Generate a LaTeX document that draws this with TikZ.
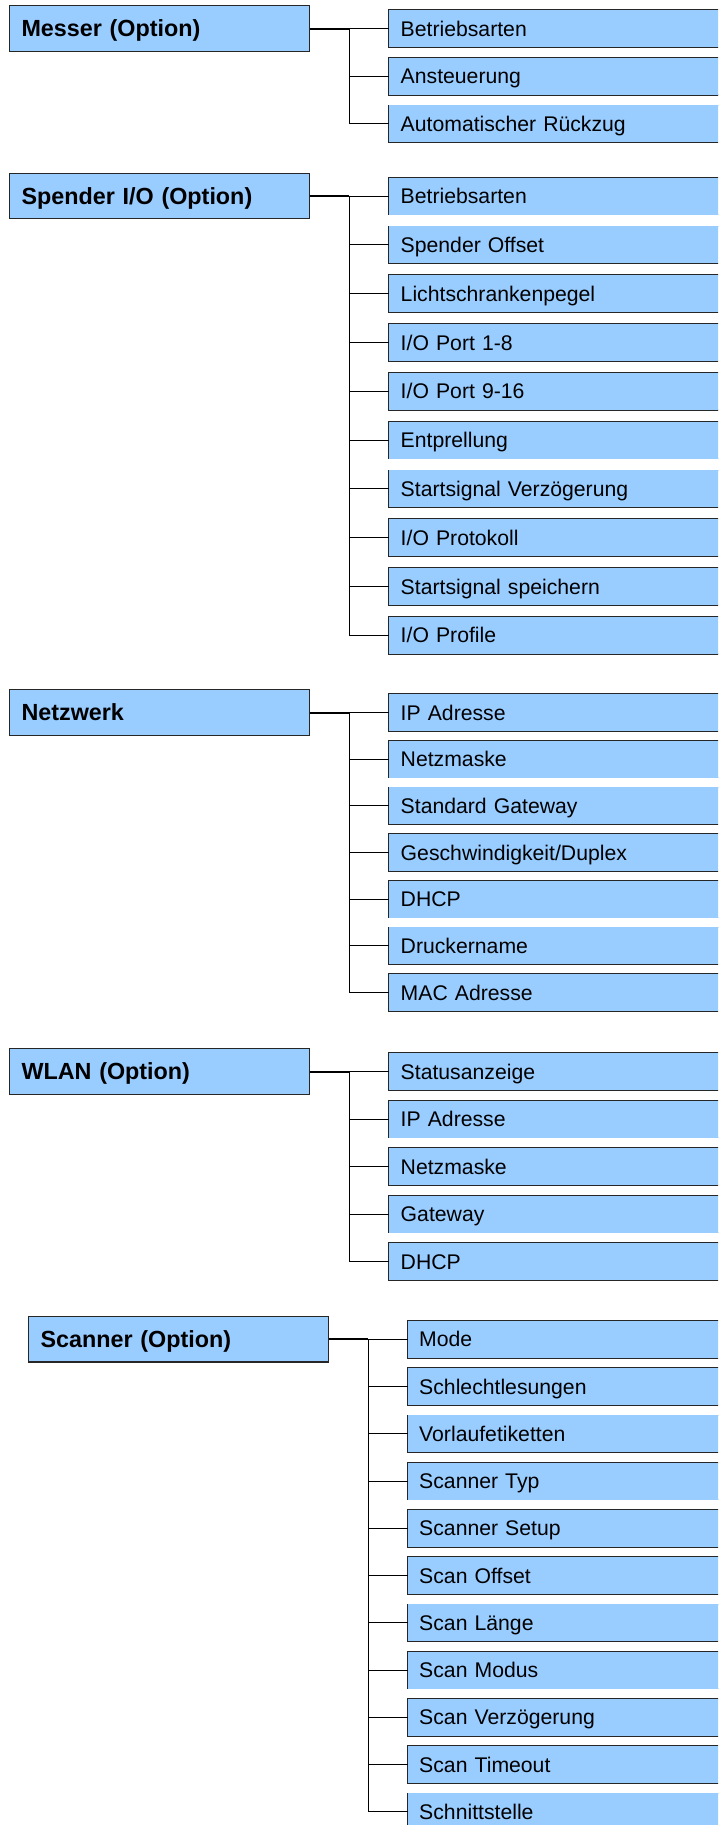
\documentclass[tikz,border=0pt]{standalone}
\usepackage{fontspec}
\setmainfont{Liberation Sans}
\definecolor{menublau}{HTML}{99CCFF}
\tikzset{
  gruppe/.style={draw=black!85, fill=menublau, line width=0.8pt, anchor=west,
    minimum width=225pt, minimum height=34pt, inner xsep=9pt, text width=207pt,
    align=left, text height=12.5pt, text depth=0pt,
    font=\fontsize{17.5}{20}\selectfont\bfseries},
  punkt/.style={fill=menublau, anchor=west,
    minimum width=320pt, minimum height=27.75pt, inner xsep=8.6pt, text width=302.8pt,
    align=left, text height=11.4pt, text depth=0pt,
    font=\fontsize{15.9}{18}\selectfont,
    append after command={
      \pgfextra{\draw[draw=black!85, line width=0.8pt]
        (\tikzlastnode.north east) -- (\tikzlastnode.north west)
        -- (\tikzlastnode.south west) -- (\tikzlastnode.south east);}}},
  ast/.style={line width=1.5pt},
  zweig/.style={line width=0.75pt},
}
\begin{document}
\begin{tikzpicture}[x=0.75pt, y=-0.75pt]
\useasboundingbox (0,0) rectangle (718,1825);
\clip (0,0) rectangle (718,1825);

% Messer
\node[gruppe] (messer) at (9,28.5) {Messer (Option)};
\coordinate (messerast) at (349,28.5);
\foreach \t [count=\i] in {Betriebsarten,Ansteuerung,Automatischer Rückzug}
  \node[punkt] (messer\i) at (389,{28.5+47.7*(\i-1)}) {\t};
\draw[ast] (messer.east) -- (messerast);
\draw[zweig] (messerast) -- (messerast |- messer3.west);
\foreach \i in {1,...,3}
  \draw[zweig] (messerast |- messer\i.west) -- (messer\i.west);

% Spender
\node[gruppe] (spender) at (9,196) {Spender I/O (Option)};
\coordinate (spenderast) at (349,196);
\foreach \t [count=\i] in {Betriebsarten,Spender Offset,Lichtschrankenpegel,I/O Port 1-8,
    I/O Port 9-16,Entprellung,Startsignal Verzögerung,I/O Protokoll,
    Startsignal speichern,I/O Profile}
  \node[punkt] (spender\i) at (389,{196+48.8*(\i-1)}) {\t};
\draw[ast] (spender.east) -- (spenderast);
\draw[zweig] (spenderast) -- (spenderast |- spender10.west);
\foreach \i in {1,...,10}
  \draw[zweig] (spenderast |- spender\i.west) -- (spender\i.west);

% Netzwerk
\node[gruppe] (netz) at (9,712.5) {Netzwerk};
\coordinate (netzast) at (349,712.5);
\foreach \t [count=\i] in {IP Adresse,Netzmaske,Standard Gateway,Geschwindigkeit/Duplex,
    DHCP,Druckername,MAC Adresse}
  \node[punkt] (netz\i) at (389,{712.5+46.67*(\i-1)}) {\t};
\draw[ast] (netz.east) -- (netzast);
\draw[zweig] (netzast) -- (netzast |- netz7.west);
\foreach \i in {1,...,7}
  \draw[zweig] (netzast |- netz\i.west) -- (netz\i.west);

% WLAN
\node[gruppe] (wlan) at (9,1071.5) {WLAN (Option)};
\coordinate (wlanast) at (349,1071.5);
\foreach \t [count=\i] in {Statusanzeige,IP Adresse,Netzmaske,Gateway,DHCP}
  \node[punkt] (wlan\i) at (389,{1071.5+47.5*(\i-1)}) {\t};
\draw[ast] (wlan.east) -- (wlanast);
\draw[zweig] (wlanast) -- (wlanast |- wlan5.west);
\foreach \i in {1,...,5}
  \draw[zweig] (wlanast |- wlan\i.west) -- (wlan\i.west);

% Scanner
\node[gruppe] (scanner) at (28,1339.3) {Scanner (Option)};
\coordinate (scannerast) at (368,1339.3);
\foreach \t [count=\i] in {Mode,Schlechtlesungen,Vorlaufetiketten,Scanner Typ,Scanner Setup,
    Scan Offset,Scan Länge,Scan Modus,Scan Verzögerung,Scan Timeout,Schnittstelle}
  \node[punkt] (scanner\i) at (407.5,{1339.3+47.25*(\i-1)}) {\t};
\draw[ast] (scanner.east) -- (scannerast);
\draw[zweig] (scannerast) -- (scannerast |- scanner11.west);
\foreach \i in {1,...,11}
  \draw[zweig] (scannerast |- scanner\i.west) -- (scanner\i.west);

\end{tikzpicture}
\end{document}
